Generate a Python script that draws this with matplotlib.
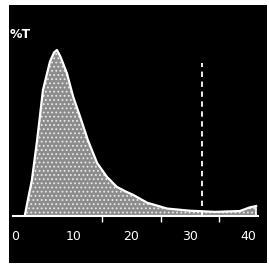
import numpy as np
import matplotlib
matplotlib.use("Agg")
import matplotlib.pyplot as plt

# curve (x in axis units, y scaled so the peak is 1)
curve_x = [1.7, 2.2, 2.9, 3.8, 4.8, 6.0, 6.7, 7.2, 7.8, 8.9, 10.0, 11.2,
           12.5, 14.1, 15.8, 17.5, 19.0, 20.3, 22.7, 26.1, 30.0, 34.3,
           38.6, 40.3, 41.4]
curve_y = [0.006, 0.096, 0.217, 0.458, 0.759, 0.93, 0.985, 1.0, 0.96, 0.861,
           0.717, 0.596, 0.458, 0.319, 0.235, 0.175, 0.148, 0.127, 0.080,
           0.045, 0.032, 0.025, 0.030, 0.052, 0.060]
cutoff_x = 32.1
cutoff_top = 0.92
tick_vals = [0, 10, 20, 30, 40]
tick_labels = ["0", "10", "20", "30", "40"]
minor_vals = [15, 25, 35]
corner_label = "%T"

plt.rcParams["hatch.color"] = "#e8e8e8"
plt.rcParams["hatch.linewidth"] = 0.8

fig = plt.figure(figsize=(2.69, 2.68), dpi=100)
fig.patch.set_facecolor("white")
ax = fig.add_axes([9 / 269, 1 - 263 / 268, 258 / 269, 258 / 268])
ax.set_facecolor("black")

x = np.array(curve_x)
y = np.array(curve_y)
ax.fill_between(x, 0, y, facecolor="#8c8c8c", edgecolor="none", hatch="....")
ax.plot(x, y, color="white", lw=1.6)
ax.plot([x[-1], x[-1]], [0, y[-1]], color="white", lw=1.2)

# dashed cut-off line
ax.plot([cutoff_x, cutoff_x], [0, cutoff_top], color="white", lw=1.3,
        linestyle=(0, (3, 2.5)))

ax.set_xlim(-1.03, 43.26)
ax.set_ylim(-0.283, 1.271)

for s in ["top", "right", "left"]:
    ax.spines[s].set_visible(False)
ax.spines["bottom"].set_position(("data", 0))
ax.spines["bottom"].set_color("white")
ax.spines["bottom"].set_linewidth(1.5)
ax.spines["bottom"].set_bounds(-0.4, 41.8)

ax.set_xticks(tick_vals)
ax.set_xticklabels(tick_labels)
ax.set_xticks(minor_vals, minor=True)
ax.tick_params(axis="x", which="major", length=0, pad=10, colors="white",
               labelsize=9)
ax.tick_params(axis="x", which="minor", length=4, width=1, color="white",
               direction="out")
ax.set_yticks([])

ax.text(0.004, 0.884, corner_label, transform=ax.transAxes, color="white",
        fontsize=9, fontweight="bold", va="center", ha="left")

plt.savefig("out.png", dpi=100, facecolor="white")
plt.close()
